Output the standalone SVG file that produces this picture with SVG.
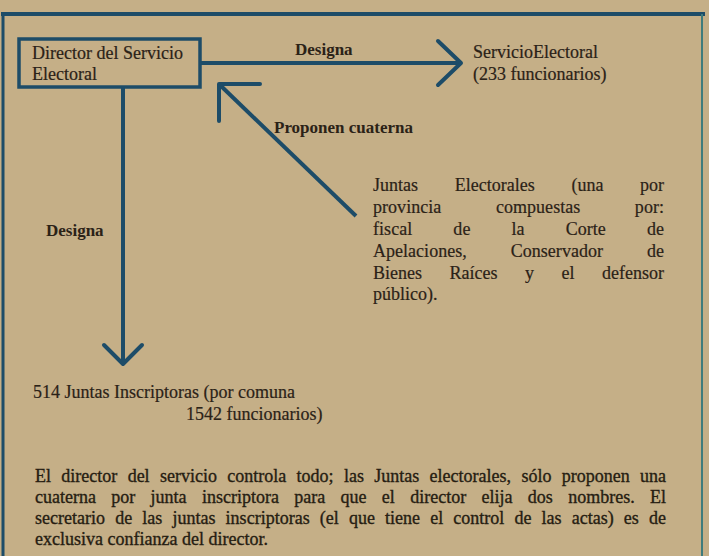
<svg xmlns="http://www.w3.org/2000/svg" width="709" height="556" viewBox="0 0 709 556">
<style>
  .t { font-family: "Liberation Serif", "Times New Roman", serif; font-size: 18px; fill: #2b2217; stroke: #2b2217; stroke-width: 0.2; }
  .b { font-family: "Liberation Serif", "Times New Roman", serif; font-size: 17px; font-weight: bold; fill: #2b2217; }
  .p { font-family: "Liberation Serif", "Times New Roman", serif; font-size: 18px; fill: #261d12; stroke: #261d12; stroke-width: 0.35; }
  .ln { fill: none; stroke: #1d4c68; stroke-width: 4; stroke-linejoin: round; }
  .ah { fill: none; stroke: #1d4c68; stroke-width: 4; stroke-linejoin: round; stroke-linecap: round; }
</style>
<rect x="0" y="0" width="709" height="556" fill="#c5af87"/>
<g id="frame">
  <line x1="1" y1="14" x2="705" y2="14" stroke="#1d4c68" stroke-width="4"/>
  <line x1="3" y1="14" x2="3" y2="556" stroke="#1d4c68" stroke-width="3"/>
  <line x1="702" y1="14" x2="702" y2="556" stroke="#3f7c7c" stroke-width="2"/>
</g>
<g id="director">
  <rect x="19" y="39" width="181" height="48" fill="none" stroke="#1d4c68" stroke-width="3.5"/>
  <text class="t" x="32" y="59">Director del Servicio</text>
  <text class="t" x="32" y="80">Electoral</text>
</g>
<g id="servicio">
  <text class="t" x="473" y="58">ServicioElectoral</text>
  <text class="t" x="473" y="80">(233 funcionarios)</text>
</g>
<g id="juntas-electorales">
  <text class="t" x="373" y="191" word-spacing="32" textLength="291" lengthAdjust="spacing">Juntas Electorales (una por</text>
  <text class="t" x="373" y="213" word-spacing="50" textLength="291" lengthAdjust="spacing">provincia compuestas por:</text>
  <text class="t" x="373" y="235" word-spacing="36.5" textLength="291" lengthAdjust="spacing">fiscal de la Corte de</text>
  <text class="t" x="373" y="257" word-spacing="39.5" textLength="291" lengthAdjust="spacing">Apelaciones, Conservador de</text>
  <text class="t" x="373" y="279" word-spacing="23" textLength="291" lengthAdjust="spacing">Bienes Raíces y el defensor</text>
  <text class="t" x="373" y="300">público).</text>
</g>
<g id="juntas-inscriptoras">
  <text class="t" x="33" y="398">514 Juntas Inscriptoras (por comuna</text>
  <text class="t" x="186" y="420">1542 funcionarios)</text>
</g>
<g id="connectors">
  <line class="ln" x1="200" y1="63" x2="459" y2="63"/>
  <polyline class="ah" points="438,41 461,63 438,85"/>
  <text class="b" x="295" y="55">Designa</text>
  <line class="ln" x1="123" y1="88" x2="123" y2="362"/>
  <polyline class="ah" points="104,345 123,364 142,345"/>
  <text class="b" x="46" y="236">Designa</text>
  <line class="ln" x1="356" y1="216" x2="221" y2="86"/>
  <polyline class="ah" points="260,84 219,84 219,121"/>
  <text class="b" x="274" y="133">Proponen cuaterna</text>
</g>
<g id="nota">
  <text class="p" x="35" y="482" word-spacing="5.8" textLength="631" lengthAdjust="spacing">El director del servicio controla todo; las Juntas electorales, sólo proponen una</text>
  <text class="p" x="35" y="503" word-spacing="10.8" textLength="631" lengthAdjust="spacing">cuaterna por junta inscriptora para que el director elija dos nombres. El</text>
  <text class="p" x="35" y="524" word-spacing="5.6" textLength="631" lengthAdjust="spacing">secretario de las juntas inscriptoras (el que tiene el control de las actas) es de</text>
  <text class="p" x="35" y="545">exclusiva confianza del director.</text>
</g>
</svg>
